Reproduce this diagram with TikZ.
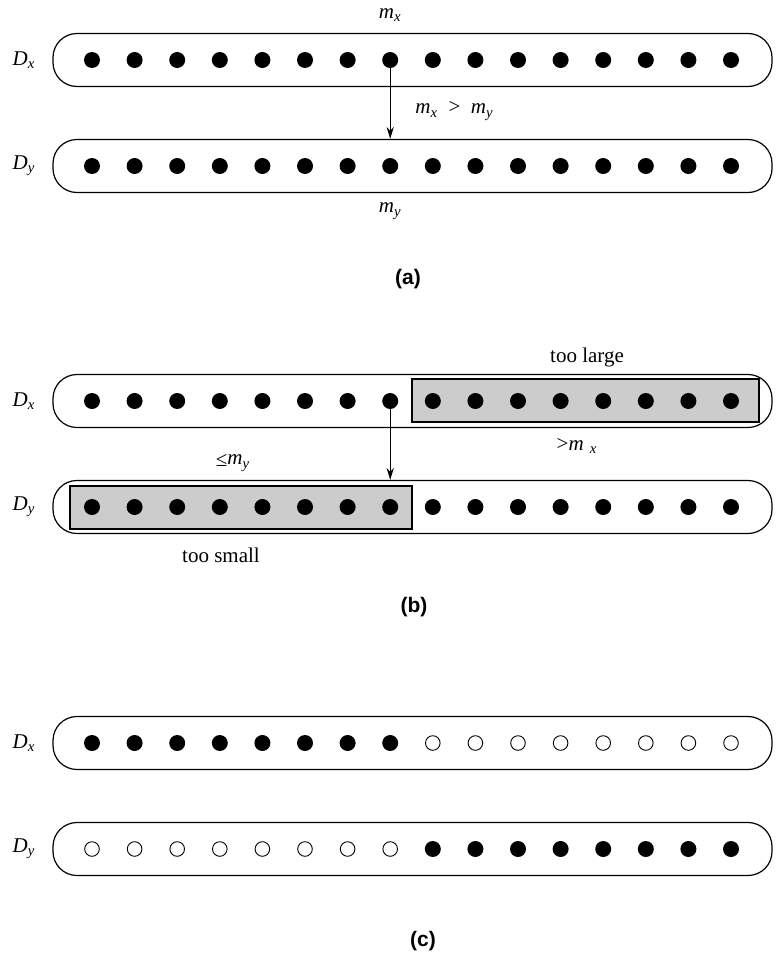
\documentclass[tikz,border=0pt]{standalone}
\usepackage{amsmath}
\usepackage{fontspec}
\setmainfont{Liberation Serif}
\setsansfont{Liberation Sans}
\usetikzlibrary{arrows.meta,positioning}
\tikzset{
  bar/.style={draw,rounded corners=12pt,minimum width=359.5pt,minimum height=26.5pt,inner sep=0pt,line width=0.6pt},
  dt/.style={circle,fill,inner sep=0pt,minimum size=8pt},
  odt/.style={circle,draw,line width=0.45pt,inner sep=0pt,minimum size=7.3pt},
  rng/.style={draw,fill=black!20,line width=0.6pt},
  pt/.style={-{Stealth[length=6pt,width=3.6pt]},line width=0.5pt},
  setlbl/.style={left=5pt of #1.west},
  sublbl/.style={font=\fontsize{10.5}{12}\sffamily\bfseries}
}
\newcommand{\mv}[2]{\textit{#1}_{\textit{#2}}}

\begin{document}
\begin{tikzpicture}[x=0.5pt,y=-0.5pt,font=\fontsize{10.5}{12}\selectfont]
\useasboundingbox (0,0) rectangle (779,958);
% (a) both sets, pivot m_x sent down
\node[bar] (ax) at (412.5,60) {};
\node[bar] (ay) at (412.5,166) {};
\foreach \i in {1,...,16} {
  \node[dt] (ax\i) at ({49.4+42.6*\i},60) {};
  \node[dt] (ay\i) at ({49.4+42.6*\i},166) {};
}
\node[setlbl=ax] (axl) {$\mv{D}{x}$};
\node[setlbl=ay] (ayl) {$\mv{D}{y}$};
\node (amx) at (ax8 |- 0,15) {$\mv{m}{x}$};
\node (amy) at (ay8 |- 0,211) {$\mv{m}{y}$};
\draw[pt] (ax8) -- (ax8 |- ay.north);
\node[anchor=west,inner sep=0pt] (acmp) at (415,111) {$\mv{m}{x}$\ \ >\ \ $\mv{m}{y}$};
\node[sublbl] (acap) at (408,279) {(a)};

% (b) discarded ranges
\node[bar] (bx) at (412.5,401) {};
\node[bar] (by) at (412.5,507) {};
\draw[rng] (412,379) rectangle (759,422);
\draw[rng] (70,486) rectangle (412,529);
\foreach \i in {1,...,16} {
  \node[dt] (bx\i) at ({49.4+42.6*\i},401) {};
  \node[dt] (by\i) at ({49.4+42.6*\i},507) {};
}
\node[setlbl=bx] (bxl) {$\mv{D}{x}$};
\node[setlbl=by] (byl) {$\mv{D}{y}$};
\draw[pt] (bx8) -- (bx8 |- by.north);
\node (big) at (587,357) {too large};
\node (bgt) at (577,446) {>$\textit{m}\;{}_{\textit{x}}$};
\node (ble) at (233,463) {\raisebox{-1pt}{≤}$\mv{m}{y}$};
\node (small) at (221,555) {too small};
\node[sublbl] (bcap) at (414,607) {(b)};

% (c) result after the split
\node[bar] (cx) at (412.5,743) {};
\node[bar] (cy) at (412.5,849) {};
\foreach \i in {1,...,8} {
  \node[dt] (cx\i) at ({49.4+42.6*\i},743) {};
  \node[odt] (cy\i) at ({49.4+42.6*\i},849) {};
}
\foreach \i in {9,...,16} {
  \node[odt] (cx\i) at ({49.4+42.6*\i},743) {};
  \node[dt] (cy\i) at ({49.4+42.6*\i},849) {};
}
\node[setlbl=cx] (cxl) {$\mv{D}{x}$};
\node[setlbl=cy] (cyl) {$\mv{D}{y}$};
\node[sublbl] (ccap) at (423,941) {(c)};
\end{tikzpicture}
\end{document}
